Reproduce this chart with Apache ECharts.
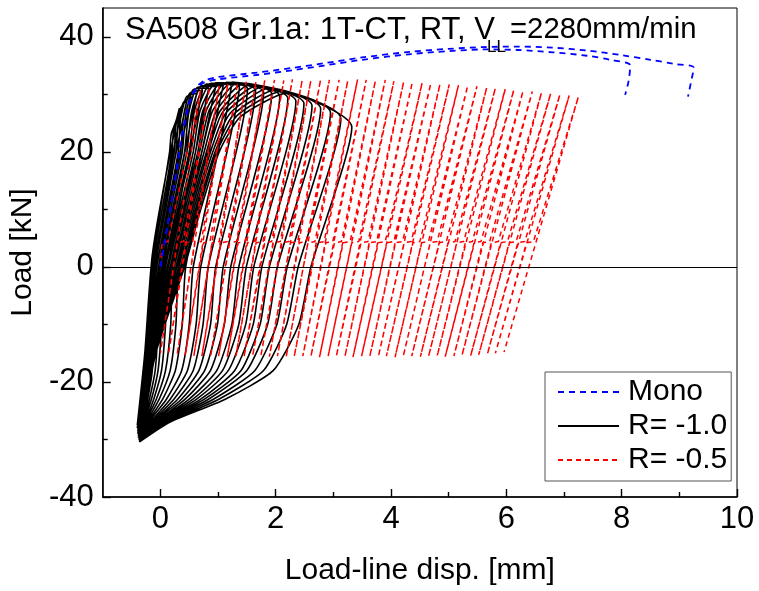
<!DOCTYPE html>
<html><head><meta charset="utf-8">
<script src="https://cdn.jsdelivr.net/npm/echarts@6/dist/echarts.min.js"></script>
<style>html,body{margin:0;padding:0;background:#fff}#c{width:759px;height:591px}</style>
</head><body><div id="c"></div>
<script>
// ---------- Mono (blue dashed), two monotonic tests ----------
const monoAX = [0, 0.12, 0.24, 0.36, 0.48, 0.60, 0.75, 1.00, 1.70, 2.30, 2.84, 3.50, 4.35, 5.00, 5.60, 6.20, 6.80, 7.40, 7.80, 8.15, 8.12, 8.06];
const monoAY = [0, 7.0, 14.0, 21.7, 27.5, 30.6, 32.0, 32.6, 33.4, 34.2, 35.0, 36.0, 37.0, 37.5, 37.8, 37.7, 37.3, 36.7, 36.0, 35.0, 32.3, 29.9];
const monoBX = [0, 0.12, 0.24, 0.36, 0.48, 0.60, 0.75, 1.00, 1.70, 2.30, 2.84, 3.50, 4.35, 5.00, 5.60, 6.20, 6.80, 7.40, 8.00, 8.50, 8.90, 9.25, 9.20, 9.15];
const monoBY = [0, 7.0, 14.2, 22.0, 27.8, 30.9, 32.3, 33.0, 33.8, 34.6, 35.4, 36.4, 37.4, 37.9, 38.2, 38.3, 38.1, 37.6, 36.8, 36.0, 35.3, 34.6, 32.0, 29.6];

// ---------- R = -1.0 (black): per-cycle features read from the loops ----------
const blkMinX = [-0.40,-0.40,-0.39,-0.39,-0.38,-0.38,-0.37,-0.37,-0.37,-0.37,-0.36,-0.36,-0.36,-0.36,-0.36,-0.36,-0.36,-0.36,-0.36,-0.36,-0.36,-0.36,-0.36,-0.36,-0.36];
const blkMinY = [-27.5,-28.0,-28.5,-29.0,-29.4,-29.7,-29.9,-30.0,-30.1,-30.1,-30.2,-30.2,-30.2,-30.3,-30.3,-30.3,-30.3,-30.3,-30.4,-30.4,-30.4,-30.4,-30.4,-30.4,-30.4];
const blkReloadLoads = [-15, 0, 10, 20];
const blkRm15 = [-0.27,-0.26,-0.25,-0.25,-0.24,-0.23,-0.22,-0.21,-0.20,-0.20,-0.19,-0.18,-0.17,-0.16,-0.15,-0.15,-0.14,-0.13,-0.12,-0.11,-0.11,-0.10,-0.09,-0.08];
const blkR0   = [-0.16,-0.14,-0.11,-0.09,-0.06,-0.03,-0.01,0.02,0.04,0.07,0.09,0.12,0.14,0.17,0.19,0.22,0.24,0.27,0.29,0.32,0.35,0.37,0.40,0.42];
const blkR10  = [0.00,0.03,0.06,0.09,0.12,0.15,0.18,0.21,0.24,0.27,0.30,0.34,0.37,0.40,0.43,0.46,0.49,0.52,0.55,0.58,0.61,0.64,0.67,0.70];
const blkR20  = [0.16,0.20,0.24,0.27,0.31,0.35,0.38,0.42,0.46,0.50,0.53,0.57,0.61,0.65,0.68,0.72,0.76,0.80,0.83,0.87,0.91,0.95,0.98,1.02];
const blkQx = [0.19,0.23,0.27,0.31,0.35,0.40,0.44,0.49,0.54,0.59,0.64,0.69,0.74,0.80,0.85,0.91,0.97,1.03,1.08,1.14,1.21,1.27,1.33,1.39];
const blkQy = [23.2,23.9,24.6,25.2,25.7,26.1,26.5,26.7,26.9,27.1,27.1,27.2,27.2,27.3,27.3,27.2,27.1,27.0,26.9,26.8,26.7,26.5,26.3,26.1];
const blkMx = [0.27,0.31,0.35,0.40,0.45,0.51,0.57,0.64,0.72,0.80,0.88,0.97,1.06,1.15,1.25,1.35,1.45,1.56,1.67,1.78,1.89,2.00,2.10,2.20];
const blkMy = [25.3,26.5,27.6,28.6,29.5,30.2,30.8,31.2,31.5,31.8,31.9,32.0,32.0,32.1,32.1,32.0,31.9,31.7,31.5,31.3,31.1,30.8,30.5,30.2];
const blkPx = [0.33,0.39,0.46,0.54,0.63,0.73,0.84,0.96,1.09,1.23,1.37,1.51,1.65,1.79,1.93,2.07,2.21,2.35,2.49,2.63,2.78,2.95,3.13,3.32];
const blkPy = [27.6,28.3,29.0,29.6,30.2,30.7,31.1,31.4,31.5,31.5,31.3,31.0,30.7,30.4,30.1,29.7,29.3,28.8,28.4,28.0,27.5,26.8,25.8,24.3];
const blkU0 = [-0.16,-0.13,-0.08,-0.02,0.05,0.13,0.22,0.32,0.44,0.57,0.70,0.83,0.96,1.09,1.22,1.36,1.49,1.62,1.76,1.89,2.03,2.20,2.39,2.61];
const blkLowerLoads = [-10, -18, -23, -27];
const blkL10 = [-0.17,-0.15,-0.10,-0.04,0.02,0.09,0.18,0.27,0.38,0.50,0.62,0.74,0.87,0.99,1.11,1.24,1.36,1.48,1.61,1.73,1.86,2.02,2.19,2.40];
const blkL18 = [-0.20,-0.18,-0.14,-0.09,-0.04,0.02,0.09,0.17,0.26,0.37,0.47,0.57,0.67,0.77,0.87,0.98,1.08,1.18,1.29,1.40,1.50,1.64,1.79,1.96];
const blkL23 = [-0.26,-0.245,-0.22,-0.19,-0.155,-0.115,-0.07,-0.02,0.04,0.105,0.17,0.235,0.30,0.365,0.43,0.50,0.565,0.63,0.70,0.765,0.835,0.92,1.015,1.125];
const blkL27 = [-0.33,-0.32,-0.31,-0.30,-0.29,-0.27,-0.26,-0.24,-0.22,-0.20,-0.17,-0.15,-0.13,-0.11,-0.08,-0.06,-0.04,-0.01,0.01,0.03,0.06,0.09,0.12,0.16];

// ---------- R = -0.5 (red): cycle tops, bottoms and the small jog near +4 kN ----------
const redStart = [0, 0];
const redJogLoads = [4.2, 4.4];
const redJogX = [0.03,0.29,0.45,0.60,0.75,0.90,1.05,1.20,1.35,1.51,1.66,1.81,1.96,2.11,2.26,2.41,2.56,2.72,2.87,3.02,3.17,3.32,3.48,3.63,3.78,3.93,4.08,4.23,4.38,4.53,4.68,4.84,4.99,5.14,5.29,5.44,5.59,5.74,5.90,6.05,6.20,6.35];
const redJogLen = [0.10,0.11,0.11,0.11,0.11,0.12,0.12,0.12,0.12,0.12,0.12,0.12,0.12,0.12,0.12,0.12,0.12,0.12,0.12,0.12,0.12,0.12,0.12,0.12,0.12,0.12,0.12,0.12,0.12,0.12,0.12,0.12,0.12,0.12,0.12,0.12,0.12,0.12,0.12,0.12,0.12,0.12];
const redTopX = [0.70,0.85,1.02,1.17,1.34,1.49,1.66,1.81,1.98,2.14,2.29,2.46,2.61,2.78,2.93,3.10,3.25,3.42,3.57,3.73,3.90,4.05,4.22,4.37,4.54,4.69,4.85,5.01,5.17,5.33,5.49,5.66,5.81,5.98,6.13,6.29,6.45,6.61,6.77,6.93,7.09,7.25];
const redTopY = [30.8,31.2,31.5,31.8,32.0,32.2,32.3,32.4,32.5,32.4,32.6,32.5,32.4,32.6,32.5,32.5,32.4,32.6,32.5,32.4,32.5,32.3,32.2,32.1,32.0,31.9,31.8,31.7,31.6,31.5,31.4,31.2,31.1,30.9,30.8,30.6,30.5,30.3,30.2,30.0,29.8,29.6];
const redBotX = [0.00,0.14,0.29,0.43,0.58,0.72,0.87,1.01,1.16,1.31,1.45,1.60,1.74,1.89,2.03,2.18,2.32,2.47,2.61,2.76,2.91,3.05,3.20,3.34,3.49,3.63,3.78,3.92,4.07,4.21,4.36,4.51,4.65,4.80,4.94,5.09,5.23,5.38,5.52,5.67,5.81,5.96];
const redBotY = [-15.0,-15.2,-15.3,-15.4,-15.5,-15.5,-15.6,-15.5,-15.6,-15.5,-15.7,-15.5,-15.6,-15.6,-15.5,-15.7,-15.6,-15.5,-15.6,-15.7,-15.5,-15.6,-15.6,-15.7,-15.5,-15.6,-15.6,-15.5,-15.7,-15.6,-15.5,-15.6,-15.6,-15.5,-15.6,-15.5,-15.4,-15.5,-15.3,-15.2,-15.0,-14.8];

// ---------- axes ----------
const xMajor = [0, 2, 4, 6, 8, 10];
const xMinor = [1, 3, 5, 7, 9];
const yMajor = [-40, -20, 0, 20, 40];
const yMinor = [-30, -10, 10, 30];

// ---------- build tables ----------
const zip = (xs, ys) => xs.map((x, i) => [x, ys[i]]);
const monoA = zip(monoAX, monoAY);
const monoB = zip(monoBX, monoBY);

const blk = [];
for (let k = 0; k < blkPx.length; k++) {
  blk.push([blkMinX[k], blkMinY[k]]);
  blk.push([blkRm15[k], blkReloadLoads[0]], [blkR0[k], blkReloadLoads[1]], [blkR10[k], blkReloadLoads[2]], [blkR20[k], blkReloadLoads[3]]);
  blk.push([blkQx[k], blkQy[k]], [blkMx[k], blkMy[k]], [blkPx[k], blkPy[k]], [blkU0[k], 0]);
  blk.push([blkL10[k], blkLowerLoads[0]], [blkL18[k], blkLowerLoads[1]], [blkL23[k], blkLowerLoads[2]], [blkL27[k], blkLowerLoads[3]]);
}
blk.push([blkMinX[blkPx.length], blkMinY[blkPx.length]]);

const red = [redStart];
for (let k = 0; k < redTopX.length; k++) {
  red.push([redJogX[k], redJogLoads[0]], [redJogX[k] + redJogLen[k], redJogLoads[1]]);
  red.push([redTopX[k], redTopY[k]], [redBotX[k], redBotY[k]]);
}

const FONT = "'Liberation Sans', Arial, sans-serif";
const chart = echarts.init(document.getElementById('c'), null, {renderer: 'canvas'});

const axisCommon = {type: 'value', splitLine: {show: false}};

chart.setOption({
  animation: false,
  backgroundColor: '#fff',
  grid: {left: 101, right: 22, top: 8, bottom: 94, show: true, borderColor: '#000', borderWidth: 1, containLabel: false},
  xAxis: [
    Object.assign({}, axisCommon, {
      min: -1, max: 10, position: 'bottom',
      axisLine: {show: true, onZero: false, lineStyle: {color: '#000', width: 1.6}},
      axisTick: {show: true, inside: true, length: 8, customValues: xMajor, lineStyle: {color: '#000', width: 1.4}},
      axisLabel: {show: true, customValues: xMajor, fontSize: 31, color: '#000', fontFamily: FONT, margin: 7},
      name: 'Load-line disp. [mm]', nameLocation: 'middle', nameGap: 59,
      nameTextStyle: {fontSize: 30, color: '#000', fontFamily: FONT}
    }),
    Object.assign({}, axisCommon, {
      min: -1, max: 10, position: 'bottom',
      axisLine: {show: false, onZero: false},
      axisTick: {show: true, inside: true, length: 5, customValues: xMinor, lineStyle: {color: '#000', width: 1.4}},
      axisLabel: {show: false}
    })
  ],
  yAxis: [
    Object.assign({}, axisCommon, {
      min: -40, max: 45, position: 'left',
      axisLine: {show: true, onZero: false, lineStyle: {color: '#000', width: 1.6}},
      axisTick: {show: true, inside: true, length: 8, customValues: yMajor, lineStyle: {color: '#000', width: 1.4}},
      axisLabel: {show: true, customValues: yMajor, fontSize: 31, color: '#000', fontFamily: FONT, margin: 9},
      name: 'Load [kN]', nameLocation: 'middle', nameGap: 60, nameRotate: 90,
      nameTextStyle: {fontSize: 30, color: '#000', fontFamily: FONT}
    }),
    Object.assign({}, axisCommon, {
      min: -40, max: 45, position: 'left',
      axisLine: {show: false, onZero: false},
      axisTick: {show: true, inside: true, length: 5, customValues: yMinor, lineStyle: {color: '#000', width: 1.4}},
      axisLabel: {show: false}
    })
  ],
  legend: {
    orient: 'vertical', left: 545, top: 372,
    data: [
      {name: 'Mono', itemStyle: {opacity: 0}},
      {name: 'R= -1.0', itemStyle: {opacity: 0}},
      {name: 'R= -0.5', itemStyle: {opacity: 0}}
    ],
    itemWidth: 61, itemHeight: 14, itemGap: 4,
    padding: [5, 4, 6, 12],
    borderColor: '#555', borderWidth: 1, backgroundColor: '#fff',
    textStyle: {fontSize: 30, color: '#000', fontFamily: FONT, lineHeight: 30, padding: [0, 0, 0, 4]}
  },
  graphic: [
    {type: 'text', x: 125, y: 30, z: 100, style: {text: 'SA508 Gr.1a: 1T-CT, RT, V', fontSize: 31, fontFamily: FONT, fill: '#000', verticalAlign: 'middle'}},
    {type: 'text', x: 487, y: 47, z: 100, style: {text: 'LL', fontSize: 17, fontFamily: FONT, fill: '#000', verticalAlign: 'middle'}},
    {type: 'text', x: 510, y: 30, z: 100, style: {text: '=2280mm/min', fontSize: 29.3, fontFamily: FONT, fill: '#000', verticalAlign: 'middle'}}
  ],
  series: [
    {
      name: 'R= -1.0', type: 'line', data: blk, showSymbol: false, symbol: 'none', smooth: 0.2, z: 2,
      lineStyle: {color: '#000', width: 1.6}, itemStyle: {color: '#000'}
    },
    {
      name: 'R= -0.5', type: 'line', data: red, showSymbol: false, symbol: 'none', z: 3,
      lineStyle: {color: '#ff0000', width: 1.5, type: [5, 4]}, itemStyle: {color: '#ff0000'}
    },
    {
      name: 'Mono', type: 'line', data: monoA, showSymbol: false, symbol: 'none', smooth: 0.3, z: 4,
      lineStyle: {color: '#0000ff', width: 1.8, type: [6, 5]}, itemStyle: {color: '#0000ff'},
      markLine: {silent: true, symbol: 'none', label: {show: false}, lineStyle: {color: '#000', width: 1, type: 'solid'}, data: [{yAxis: 0}]}
    },
    {
      name: 'Mono', type: 'line', data: monoB, showSymbol: false, symbol: 'none', smooth: 0.3, z: 4,
      lineStyle: {color: '#0000ff', width: 1.8, type: [6, 5]}, itemStyle: {color: '#0000ff'}
    }
  ]
});
</script>
</body></html>
